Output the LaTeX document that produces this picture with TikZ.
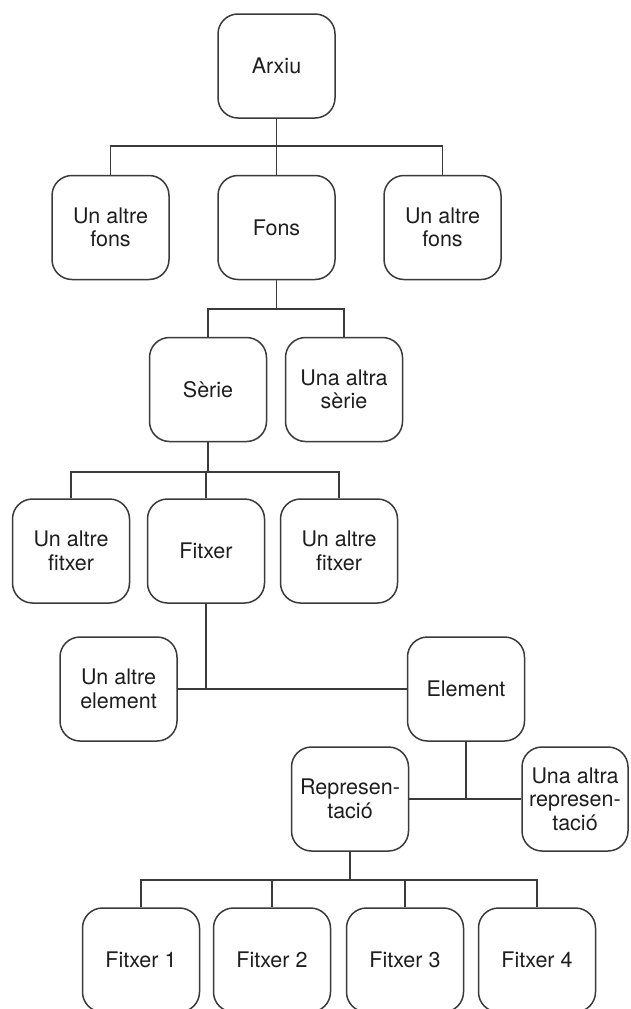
\documentclass[tikz,border=0pt]{standalone}
\usepackage{fontspec}
\setmainfont{TeX Gyre Heros}
\begin{document}
\begin{tikzpicture}[x=1pt,y=-1pt,
  box/.style={draw=linec, line width=1.5pt, rounded corners=20pt, minimum width=117pt, minimum height=104pt, align=center, inner sep=2pt, text=textc, font=\fontsize{21.5}{23.5}\selectfont},
  link/.style={draw=linec, line width=1.5pt}]
\definecolor{linec}{HTML}{3A3A3A}
\definecolor{textc}{HTML}{1E1E1E}
\useasboundingbox (0,0) rectangle (630,1009);
% level 0
\node[box] (arxiu) at (276.5,66) {Arxiu};
% level 1
\node[box] (fonsL) at (110.5,227.5) {Un altre\\fons};
\node[box] (fons) at (276.5,227.5) {Fons};
\node[box] (fonsR) at (442.5,227.5) {Un altre\\fons};
% level 2
\node[box] (serie) at (208,389.5) {Sèrie};
\node[box] (serie2) at (344,389.5) {Una altra\\sèrie};
% level 3
\node[box] (fitL) at (71,551) {Un altre\\fitxer};
\node[box] (fit) at (206,551) {Fitxer};
\node[box] (fitR) at (339,551) {Un altre\\fitxer};
% level 4
\node[box] (elemL) at (118.5,689) {Un altre\\element};
\node[box] (elem) at (466,689) {Element};
% level 5
\node[box] (rep) at (350,799) {Represen-\\tació};
\node[box, minimum width=106pt] (rep2) at (575,799) {Una altra\\represen-\\tació};
% level 6
\node[box] (f1) at (141,960) {Fitxer 1};
\node[box] (f2) at (272,960) {Fitxer 2};
\node[box] (f3) at (405,960) {Fitxer 3};
\node[box] (f4) at (537,960) {Fitxer 4};
% bus coordinates
\coordinate (b1) at (276.5,146);
\coordinate (b2) at (276.5,309);
\coordinate (b3) at (208,472);
\coordinate (b6) at (350,880);
% connectors
\draw[link] (arxiu.south) -- (b1);
\draw[link] (fonsL.north) |- (b1) -| (fonsR.north);
\draw[link] (b1) -- (fons.north);
\draw[link] (fons.south) -- (b2);
\draw[link] (serie.north) |- (b2) -| (serie2.north);
\draw[link] (serie.south) -- (b3);
\draw[link] (fitL.north) |- (b3) -| (fitR.north);
\draw[link] (b3) -| (fit.north);
\draw[link] (fit.south) -- (fit.south |- elem.west);
\draw[link] (elemL.east) -- (elem.west);
\draw[link] (elem.south) -- (elem.south |- rep.east);
\draw[link] (rep.east) -- (rep2.west);
\draw[link] (rep.south) -- (b6);
\draw[link] (f1.north) |- (b6) -| (f4.north);
\draw[link] (f2.north) -- (f2.north |- b6);
\draw[link] (f3.north) -- (f3.north |- b6);
\end{tikzpicture}
\end{document}
